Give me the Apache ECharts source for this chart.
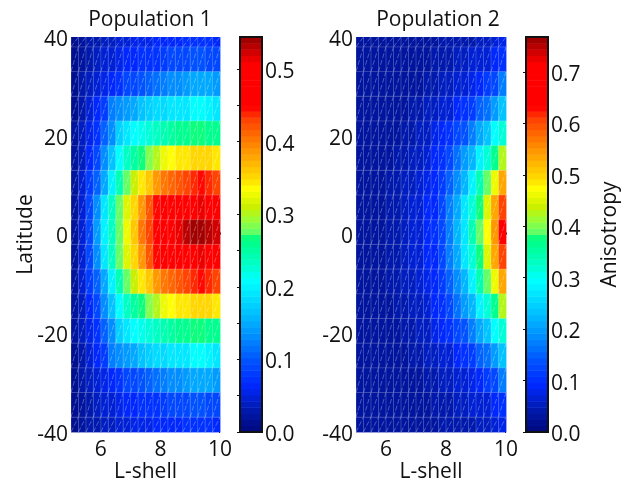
<!DOCTYPE html>
<html><head><meta charset="utf-8">
<script src="https://cdn.jsdelivr.net/npm/echarts@6/dist/echarts.min.js"></script>
<style>html,body{margin:0;padding:0;background:#fff}#c{width:633px;height:481px}</style>
</head><body><div id="c"></div>
<script>
const lEdges=[5,5.25,5.5,5.75,6,6.25,6.5,6.75,7,7.25,7.5,7.75,8,8.25,8.5,8.75,9,9.25,9.5,9.75,10];
const latEdges=[40,38,33,28,23,18,13,8,3,-2,-7,-12,-17,-22,-27,-32,-37,-40];

const p1_40=[.012,.02,.028,.033,.038,.042,.047,.05,.052,.055,.055,.06,.06,.065,.065,.07,.07,.07,.07,.065];
const p1_35=[.014,.024,.032,.04,.046,.05,.055,.06,.065,.07,.07,.075,.08,.085,.09,.09,.095,.095,.09,.09];
const p1_30=[.015,.027,.037,.046,.056,.065,.075,.085,.09,.10,.105,.115,.125,.13,.135,.14,.15,.15,.145,.14];
const p1_25=[.016,.032,.046,.06,.08,.12,.13,.14,.15,.165,.17,.18,.185,.19,.19,.195,.205,.205,.2,.195];
const p1_20=[.018,.036,.055,.075,.105,.13,.17,.19,.205,.215,.225,.235,.245,.25,.255,.26,.27,.265,.26,.255];
const p1_15=[.018,.04,.065,.09,.13,.165,.21,.235,.25,.265,.285,.30,.325,.335,.34,.345,.35,.35,.35,.345];
const p1_10=[.02,.045,.08,.11,.15,.2,.245,.275,.31,.34,.365,.39,.405,.41,.42,.43,.44,.445,.435,.43];
const p1_05=[.02,.05,.085,.13,.195,.23,.275,.315,.35,.385,.425,.45,.475,.48,.49,.5,.505,.51,.505,.5];
const p1_00=[.02,.05,.09,.14,.2,.235,.28,.33,.365,.40,.43,.465,.49,.505,.515,.53,.54,.544,.535,.525];
const pop1Rows=[p1_40,p1_35,p1_30,p1_25,p1_20,p1_15,p1_10,p1_05,p1_00,p1_05,p1_10,p1_15,p1_20,p1_25,p1_30,p1_35,p1_40];

const p2_40=[.03,.03,.03,.03,.03,.03,.03,.03,.035,.035,.035,.04,.04,.04,.045,.045,.05,.055,.065,.075];
const p2_35=[.03,.03,.03,.03,.03,.03,.03,.035,.035,.035,.04,.04,.045,.05,.055,.06,.065,.07,.085,.1];
const p2_30=[.03,.03,.03,.03,.03,.03,.03,.035,.035,.04,.045,.05,.055,.06,.065,.08,.09,.11,.125,.17];
const p2_25=[.03,.03,.03,.03,.03,.035,.035,.04,.045,.05,.055,.06,.07,.085,.1,.115,.15,.165,.2,.235];
const p2_20=[.03,.03,.03,.03,.035,.035,.04,.045,.05,.055,.075,.085,.105,.125,.14,.17,.21,.235,.29,.32];
const p2_15=[.03,.03,.03,.035,.035,.04,.045,.05,.055,.065,.085,.105,.13,.16,.2,.225,.28,.32,.37,.42];
const p2_10=[.03,.03,.035,.035,.04,.045,.05,.055,.065,.075,.09,.115,.15,.19,.225,.28,.34,.385,.46,.53];
const p2_05=[.03,.03,.035,.035,.04,.045,.05,.06,.07,.085,.095,.125,.17,.21,.265,.32,.375,.45,.53,.61];
const p2_00=[.03,.03,.035,.035,.04,.045,.05,.06,.07,.085,.1,.125,.17,.225,.27,.34,.39,.475,.55,.68];
const pop2Rows=[p2_40,p2_35,p2_30,p2_25,p2_20,p2_15,p2_10,p2_05,p2_00,p2_05,p2_10,p2_15,p2_20,p2_25,p2_30,p2_35,p2_40];

const colorStops=[[0,[0,10,130]],[.046,[0,25,170]],[.113,[0,40,255]],[.172,[0,80,255]],[.248,[0,150,255]],[.307,[0,200,255]],[.382,[0,255,255]],[.424,[0,255,200]],[.49,[0,255,128]],[.508,[100,255,100]],[.535,[150,255,60]],[.57,[200,240,0]],[.618,[255,255,0]],[.644,[255,220,0]],[.676,[255,190,0]],[.735,[255,130,0]],[.8,[255,60,0]],[.828,[255,0,0]],[.94,[255,0,0]],[1,[160,0,0]]];
const levels=64;
const titles=['Population 1','Population 2'];
const maxes=[.544,.768];
const cbIntervals=[.05,.1];
const FONT='"Open Sans"';

function levelColor(i){
  const t=i/(levels-1);
  for(let k=1;k<colorStops.length;k++){
    if(t<=colorStops[k][0]){
      const [a,ca]=colorStops[k-1],[b,cb]=colorStops[k];
      const f=(t-a)/(b-a);
      return 'rgb('+ca.map((c,j)=>Math.round(c+(cb[j]-c)*f)).join(',')+')';
    }
  }
  return 'rgb(160,0,0)';
}
function heatSeries(rows,max,xi,yi){
  const data=[];
  rows.forEach((r,ri)=>r.forEach((v,ci)=>data.push([ci,ri,v])));
  return {type:'custom',xAxisIndex:xi,yAxisIndex:yi,silent:true,clip:false,data,
    dimensions:['c','r','v'],encode:{},
    renderItem(p,api){
      const c=api.value(0),r=api.value(1),v=api.value(2);
      const a=api.coord([lEdges[c],latEdges[r]]),b=api.coord([lEdges[c+1],latEdges[r+1]]);
      const lv=Math.min(levels-1,Math.floor(v/max*levels));
      const line='rgba(255,255,255,0.2)';
      return {type:'group',children:[
        {type:'rect',shape:{x:a[0],y:a[1],width:b[0]-a[0]+.4,height:b[1]-a[1]+.4},style:{fill:levelColor(lv)}},
        {type:'line',shape:{x1:a[0],y1:a[1],x2:b[0],y2:a[1]},style:{stroke:r?line:'transparent',lineWidth:1}},
        {type:'line',shape:{x1:a[0],y1:a[1],x2:a[0],y2:b[1]},style:{stroke:line,lineWidth:1}},
        {type:'line',shape:{x1:a[0],y1:b[1],x2:b[0],y2:a[1]},style:{stroke:'rgba(255,255,255,0.3)',lineWidth:1,lineDash:[5,2]}}
      ]};
    }};
}
function barSeries(max,xi,yi){
  const data=[];for(let i=0;i<levels;i++)data.push([i]);
  return {type:'custom',xAxisIndex:xi,yAxisIndex:yi,silent:true,data,encode:{},
    renderItem(p,api){
      const i=api.value(0);
      const a=api.coord([0,(i+1)/levels*max]),b=api.coord([1,i/levels*max]);
      return {type:'rect',shape:{x:a[0],y:a[1],width:b[0]-a[0],height:b[1]-a[1]+.5},style:{fill:levelColor(i)}};
    }};
}
const lab={fontFamily:FONT,fontSize:21,color:'#111'};
const shifted={t:{...lab,padding:[6,0,0,0]}};
const grids=[
 {left:71,top:37,width:149,height:395,outerBoundsMode:'none'},
 {left:240,top:37,width:22,height:395,outerBoundsMode:'none',show:true,borderColor:'#111',borderWidth:2,backgroundColor:'transparent',z:5},
 {left:356,top:37,width:150,height:395,outerBoundsMode:'none'},
 {left:526,top:37,width:22,height:395,outerBoundsMode:'none',show:true,borderColor:'#111',borderWidth:2,backgroundColor:'transparent',z:5}];
const xAxis=[],yAxis=[],series=[];
[0,1].forEach(p=>{
  const gh=p*2,gc=p*2+1;
  xAxis.push({gridIndex:gh,type:'value',min:5,max:10,
    axisLine:{show:false},splitLine:{show:false},
    axisTick:{show:true,inside:true,length:2,customValues:[6,8,10],lineStyle:{color:'#222'}},
    axisLabel:{...lab,margin:8,customValues:[6,8,10],hideOverlap:false},
    name:'L-shell',nameLocation:'middle',nameGap:30,nameMoveOverlap:false,nameTextStyle:{...lab}});
  const xh=xAxis.length-1;
  xAxis.push({gridIndex:gc,type:'value',min:0,max:1,show:false});
  const xc=xAxis.length-1;
  yAxis.push({gridIndex:gh,type:'value',min:-40,max:40,interval:20,
    axisLine:{show:false},splitLine:{show:false},
    axisTick:{show:false},
    axisLabel:{...lab,margin:3,showMinLabel:true,showMaxLabel:true,rich:shifted,formatter:v=>'{t|'+v+'}'},
    name:p?'':'Latitude',nameLocation:'middle',nameGap:34,nameMoveOverlap:false,nameRotate:90,nameTextStyle:{...lab}});
  const yh=yAxis.length-1;
  yAxis.push({gridIndex:gh,type:'value',position:'right',min:-40,max:40,interval:2.5,
    axisLine:{show:false},splitLine:{show:false},axisLabel:{show:false},
    axisTick:{show:true,inside:true,length:1,lineStyle:{color:'#222'}}});
  const iv=cbIntervals[p];
  yAxis.push({gridIndex:gc,type:'value',position:'right',min:0,max:maxes[p],interval:iv,
    axisLine:{show:false},splitLine:{show:false},
    axisTick:{show:true,inside:true,length:3,lineStyle:{color:'#111',width:1}},
    axisLabel:{...lab,margin:3,showMaxLabel:false,rich:shifted,
      formatter:v=>{const n=Math.round(v*100);return n%10===0&&v<maxes[p]-.001?'{t|'+(n/100).toFixed(1)+'}':'';}},
    name:p?'Anisotropy':'',nameLocation:'middle',nameGap:52,nameMoveOverlap:false,nameRotate:90,nameTextStyle:{...lab}});
  const yc=yAxis.length-1;
  yAxis.push({gridIndex:gc,type:'value',position:'left',min:0,max:maxes[p],interval:iv,
    axisLine:{show:false},splitLine:{show:false},axisLabel:{show:false},
    axisTick:{show:true,inside:true,length:3,lineStyle:{color:'#111',width:1}}});
  series.push(heatSeries(p?pop2Rows:pop1Rows,maxes[p],xh,yh));
  series.push(barSeries(maxes[p],xc,yc));
});
const chart=echarts.init(document.getElementById('c'),null,{renderer:'canvas'});
chart.setOption({animation:false,backgroundColor:'#fff',
  title:[{text:titles[0],left:150,top:10,textAlign:'center',textStyle:{...lab,fontWeight:'normal'},padding:0},
         {text:titles[1],left:438,top:10,textAlign:'center',textStyle:{...lab,fontWeight:'normal'},padding:0}],
  grid:grids,xAxis,yAxis,series});
</script></body></html>
